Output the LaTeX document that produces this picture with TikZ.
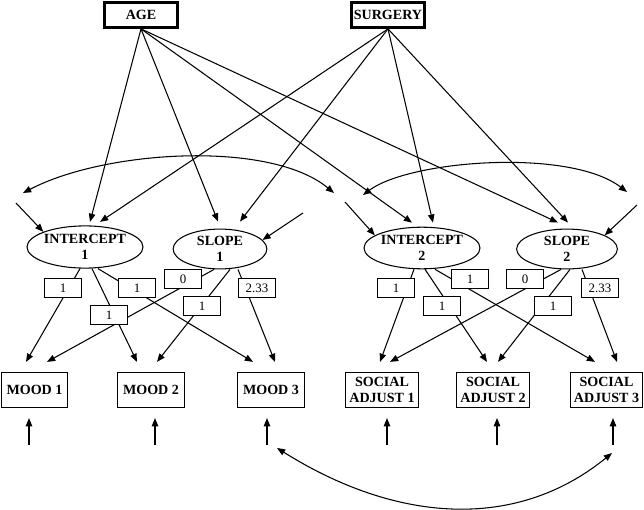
\documentclass[tikz,border=0pt]{standalone}
\usepackage{fontspec}
\setmainfont{Liberation Serif}
\usetikzlibrary{arrows.meta,shapes.geometric}

\begin{document}
\begin{tikzpicture}[x=0.03cm, y=-0.03cm, line width=0.9pt,
		>={Triangle[length=7pt,width=5.5pt]},
		pred/.style={draw, line width=2.2pt, font=\bfseries\fontsize{12}{14}\selectfont, minimum width=62pt, minimum height=21.5pt, inner sep=1pt},
		obs/.style={draw, align=center, font=\bfseries\fontsize{12}{14}\selectfont, minimum width=57pt, minimum height=30pt, inner sep=2pt},
		lat/.style={draw, ellipse, align=center, font=\bfseries\fontsize{12}{14}\selectfont, inner sep=0pt, minimum height=34pt},
		load/.style={draw, fill=white, font=\fontsize{11}{12}\selectfont, minimum width=31pt, minimum height=16pt, inner sep=1pt}]
		\useasboundingbox (0,0) rectangle (644,510);

		% Predictors
		\node[pred] (age) at (141,15) {AGE};
		\node[pred] (surg) at (388,15) {SURGERY};

		% Growth factors
		\node[lat, minimum width=97pt, minimum height=36pt] (i1) at (85,247) {INTERCEPT\\1};
		\node[lat, minimum width=80pt] (s1) at (220,249) {SLOPE\\1};
		\node[lat, minimum width=96pt, minimum height=35.5pt] (i2) at (422,248) {INTERCEPT\\2};
		\node[lat, minimum width=86pt] (s2) at (567,249) {SLOPE\\2};

		% Repeated measures
		\node[obs] (m1) at (34.5,390) {MOOD 1};
		\node[obs] (m2) at (151,390) {MOOD 2};
		\node[obs] (m3) at (271,390) {MOOD 3};
		\node[obs, minimum width=62pt] (a1) at (382,390) {SOCIAL\\ADJUST 1};
		\node[obs, minimum width=62pt] (a2) at (493,390) {SOCIAL\\ADJUST 2};
		\node[obs, minimum width=62pt] (a3) at (606.5,390) {SOCIAL\\ADJUST 3};

		% Paths from the predictors
		\draw[->] (age.south) -- ([shift={(5,-3.5)}]i1.north);
		\draw[->] (age.south) -- ([shift={(-2,-7)}]s1.north);
		\draw[->] (age.south) -- ([shift={(-10,-4)}]i2.north);
		\draw[->] (age.south) -- ([shift={(-9,-6)}]s2.north);
		\draw[->] (surg.south) -- ([shift={(15,-3.5)}]i1.north);
		\draw[->] (surg.south) -- ([shift={(20,-7)}]s1.north);
		\draw[->] (surg.south) -- ([shift={(11,-4)}]i2.north);
		\draw[->] (surg.south) -- ([shift={(1,-6)}]s2.north);

		% Disturbances of the growth factors
		\coordinate (ri1) at (16,203);
		\coordinate (rs1) at (303,213);
		\coordinate (ri2) at (345,202);
		\coordinate (rs2) at (637,205);
		\draw[->] (ri1) -- (i1.160);
		\draw[->] (rs1) -- (s1.12);
		\draw[->] (ri2) -- (i2.165);
		\draw[->] (rs2) -- (s2.20);

		% Covariances
		\coordinate (ct1) at (23,193);
		\coordinate (ct2) at (334,193);
		\coordinate (ct3) at (363,195);
		\coordinate (ct4) at (627,192);
		\coordinate (cb1) at (277,448);
		\coordinate (cb2) at (612,453);
		\draw[<->] (ct1) .. controls (105,150) and (270,140) .. (ct2);
		\draw[<->] (ct3) .. controls (410,160) and (570,148) .. (ct4);
		\draw[<->] (cb1) .. controls (395,522) and (515,532) .. (cb2);

		% Loadings
		\draw[->] ([shift={(-5,0)}]i1.south) -- ([shift={(-8.5,-10)}]m1.north);
		\draw[->] ([shift={(7,0)}]i1.south) -- ([shift={(-14,-10)}]m2.north);
		\draw[->] ([shift={(13,0)}]i1.south) -- ([shift={(-18,-10)}]m3.north);
		\draw[->] ([shift={(-6,0)}]s1.south) -- ([shift={(12.5,-10)}]m1.north);
		\draw[->] ([shift={(10,0)}]s1.south) -- ([shift={(6,-10)}]m2.north);
		\draw[->] ([shift={(18,0)}]s1.south) -- ([shift={(4,-10)}]m3.north);
		\draw[->] ([shift={(-8,0)}]i2.south) -- ([shift={(-2,-10)}]a1.north);
		\draw[->] ([shift={(3,0)}]i2.south) -- ([shift={(-6,-10)}]a2.north);
		\draw[->] ([shift={(13,0)}]i2.south) -- ([shift={(-11.5,-10)}]a3.north);
		\draw[->] ([shift={(-6,0)}]s2.south) -- ([shift={(8,-10)}]a1.north);
		\draw[->] ([shift={(3,0)}]s2.south) -- ([shift={(5,-10)}]a2.north);
		\draw[->] ([shift={(15,0)}]s2.south) -- ([shift={(10.5,-10)}]a3.north);

		% Loading values
		\node[load] (li1a) at (63,288) {1};
		\node[load] (li1b) at (109,315) {1};
		\node[load] (li1c) at (137,288) {1};
		\node[load] (ls1a) at (183,279) {0};
		\node[load] (ls1b) at (202,306) {1};
		\node[load] (ls1c) at (257,288) {2.33};
		\node[load] (li2a) at (396,288) {1};
		\node[load] (li2b) at (442,306) {1};
		\node[load] (li2c) at (470,279) {1};
		\node[load] (ls2a) at (525,279) {0};
		\node[load] (ls2b) at (553,306) {1};
		\node[load] (ls2c) at (600,288) {2.33};

		% Measurement errors
		\foreach \b/\x in {m1/29, m2/155, m3/267, a1/387, a2/497, a3/613} {
				\coordinate (e\b) at (\x,445);
				\draw[->, shorten >=8.5pt] (e\b) -- (e\b |- \b.south);
			}
	\end{tikzpicture}
\end{document}
